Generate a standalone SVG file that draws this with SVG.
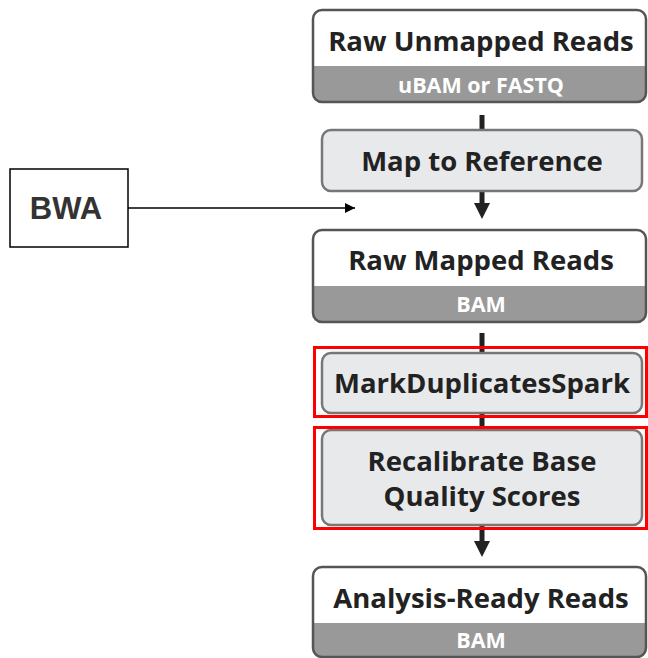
<svg xmlns="http://www.w3.org/2000/svg" width="648" height="658" viewBox="0 0 648 658">
<style>
.t{font-family:"Open Sans","Noto Sans","DejaVu Sans",sans-serif;font-weight:700;fill:#222;text-anchor:middle;font-size:27.5px}
.s{font-family:"Open Sans","Noto Sans","DejaVu Sans",sans-serif;font-weight:700;fill:#fff;text-anchor:middle;font-size:21.5px}
.data{fill:none;stroke:#555;stroke-width:2.5}
.band{fill:#999}
.step{fill:#e8e9eb;stroke:#777;stroke-width:2.5}
.hl{fill:none;stroke:#f00;stroke-width:3}
.con{stroke:#222;stroke-width:5;fill:none}
</style>
<defs>
<marker id="ah" viewBox="0 0 10 10" refX="10" refY="5" markerWidth="10" markerHeight="10" markerUnits="userSpaceOnUse" orient="auto">
<path d="M0,0 L10,5 L0,10 Z" fill="#000"/>
</marker>
<clipPath id="c1"><rect x="313" y="10" width="333" height="92" rx="9"/></clipPath>
<clipPath id="c2"><rect x="313" y="230" width="333" height="92" rx="9"/></clipPath>
<clipPath id="c3"><rect x="313" y="567" width="333" height="90" rx="9"/></clipPath>
</defs>
<g id="connectors">
<line class="con" x1="482" y1="115" x2="482" y2="131"/>
<line class="con" x1="482" y1="191" x2="482" y2="204"/>
<path d="M474,203 L490,203 L482,219 Z" fill="#222"/>
<line class="con" x1="482" y1="333" x2="482" y2="354"/>
<line class="con" x1="482" y1="413" x2="482" y2="431"/>
<line class="con" x1="482" y1="525" x2="482" y2="542"/>
<path d="M474,541 L490,541 L482,557 Z" fill="#222"/>
<line x1="128" y1="208" x2="355" y2="208" stroke="#000" stroke-width="1.5" marker-end="url(#ah)"/>
</g>
<g id="raw-unmapped">
<rect x="313" y="10" width="333" height="92" rx="9" fill="#fff"/>
<rect class="band" x="313" y="66" width="333" height="36" clip-path="url(#c1)"/>
<rect class="data" x="313" y="10" width="333" height="92" rx="9"/>
<text class="t" x="481" y="51">Raw Unmapped Reads</text>
<text class="s" x="481" y="93">uBAM or FASTQ</text>
</g>
<g id="map-to-reference">
<rect class="step" x="322" y="130" width="320" height="61" rx="9"/>
<text class="t" x="482" y="171">Map to Reference</text>
</g>
<g id="bwa">
<rect x="10" y="169" width="118" height="78" fill="#fff" stroke="#000" stroke-width="1.5"/>
<text x="66" y="219" font-family="Liberation Sans,Arial,sans-serif" font-weight="700" font-size="31" fill="#333" text-anchor="middle">BWA</text>
</g>
<g id="raw-mapped">
<rect x="313" y="230" width="333" height="92" rx="9" fill="#fff"/>
<rect class="band" x="313" y="286" width="333" height="36" clip-path="url(#c2)"/>
<rect class="data" x="313" y="230" width="333" height="92" rx="9"/>
<text class="t" x="481" y="270">Raw Mapped Reads</text>
<text class="s" x="481" y="312">BAM</text>
</g>
<g id="mark-duplicates">
<rect class="step" x="322" y="353" width="320" height="60" rx="9"/>
<text class="t" x="482" y="393">MarkDuplicatesSpark</text>
<rect class="hl" x="314.5" y="347.5" width="332" height="69"/>
</g>
<g id="recalibrate">
<rect class="step" x="322" y="430" width="320" height="95" rx="9"/>
<text class="t" x="482" y="471">Recalibrate Base</text>
<text class="t" x="482" y="506">Quality Scores</text>
<rect class="hl" x="314.5" y="427.5" width="332" height="101"/>
</g>
<g id="analysis-ready">
<rect x="313" y="567" width="333" height="90" rx="9" fill="#fff"/>
<rect class="band" x="313" y="623" width="333" height="34" clip-path="url(#c3)"/>
<rect class="data" x="313" y="567" width="333" height="90" rx="9"/>
<text class="t" x="481" y="608">Analysis-Ready Reads</text>
<text class="s" x="481" y="648">BAM</text>
</g>
</svg>
